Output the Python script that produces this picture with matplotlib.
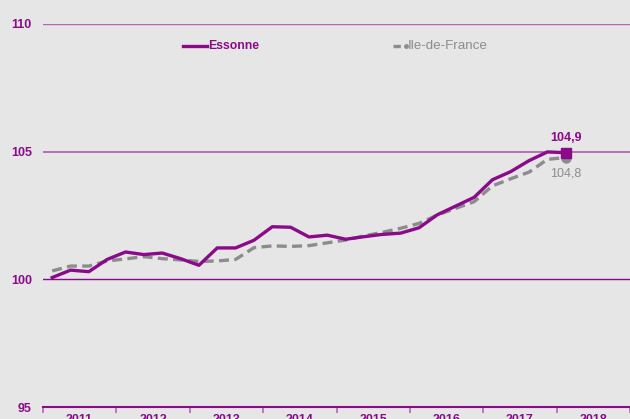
import matplotlib
matplotlib.use("Agg")
import matplotlib.pyplot as plt
from matplotlib.lines import Line2D

plt.rcParams["font.family"] = ["Liberation Sans", "DejaVu Sans"]

years = ["2011", "2012", "2013", "2014", "2015", "2016", "2017", "2018"]
essonne = [100.07, 100.36, 100.30, 100.78, 101.07, 100.97, 101.03, 100.81, 100.55,
           101.23, 101.23, 101.53, 102.06, 102.04, 101.66, 101.73, 101.57, 101.67,
           101.76, 101.81, 102.02, 102.53, 102.87, 103.21, 103.90, 104.22, 104.65,
           104.99, 104.96]
idf = [100.33, 100.52, 100.52, 100.72, 100.80, 100.89, 100.81, 100.76, 100.70,
       100.72, 100.78, 101.24, 101.31, 101.29, 101.32, 101.43, 101.54, 101.70,
       101.84, 102.00, 102.19, 102.52, 102.78, 103.04, 103.66, 103.94, 104.20,
       104.70, 104.77]
last_labels = ["104,9", "104,8"]
series_names = ["Essonne", "Ile-de-France"]

PURPLE = "#8a0a8a"
GRID = "#b466b4"
GRAY = "#8c8c8c"
BG = "#e6e6e6"

fig = plt.figure(figsize=(6.30, 4.19), dpi=100, facecolor=BG)
ax = fig.add_axes([43/630, 12/419, 1 - 43/630, (407-24)/419])
ax.set_facecolor(BG)

x = [i + 0.5 for i in range(len(essonne))]
ax.set_xlim(0, 32)
ax.set_ylim(95, 110)

for v, c, lw in [(110, GRID, 1.0), (105, GRID, 1.3), (100, PURPLE, 1.0)]:
    ax.axhline(v, color=c, lw=lw, zorder=1)

ax.plot(x, idf, color=GRAY, lw=2.4, ls=(0, (3.0, 1.6)), zorder=3)
ax.plot(x, essonne, color=PURPLE, lw=2.4, zorder=4)
ax.plot(x[-1], idf[-1], "o", color=GRAY, ms=6.5, zorder=5)
ax.plot(x[-1], essonne[-1], "s", color=PURPLE, ms=6.5, zorder=6)
ax.annotate(last_labels[0], (x[-1], essonne[-1]), xytext=(0, 6), textcoords="offset points",
            ha="center", va="bottom", color=PURPLE, fontsize=9, fontweight="bold")
ax.annotate(last_labels[1], (x[-1], idf[-1]), xytext=(0, -7), textcoords="offset points",
            ha="center", va="top", color=GRAY, fontsize=9)

for s in ["top", "right", "left"]:
    ax.spines[s].set_visible(False)
ax.spines["bottom"].set_color(PURPLE)
ax.spines["bottom"].set_linewidth(1.5)

ax.set_yticks([95, 100, 105, 110])
ax.set_yticklabels(["95", "100", "105", "110"])
ax.tick_params(axis="y", length=0, pad=8, labelcolor=PURPLE, labelsize=9)
for t in ax.get_yticklabels():
    t.set_fontweight("bold")

ax.set_xticks(range(0, 33, 4))
ax.set_xticklabels([])
ax.set_xticks([2 + 4*k for k in range(len(years))], minor=True)
ax.set_xticklabels(years, minor=True)
ax.tick_params(axis="x", which="major", length=4, color=GRID, width=1.2, direction="out")
ax.tick_params(axis="x", which="minor", length=0, pad=5, labelcolor=PURPLE, labelsize=9)
for t in ax.get_xticklabels(minor=True):
    t.set_fontweight("bold")

# legend
ly = 1 - 46/419
fig.add_artist(Line2D([183/630, 207/630], [ly, ly], color=PURPLE, lw=2.4))
fig.text(208/630, ly, series_names[0], color=PURPLE, fontsize=8.8, fontweight="bold", va="center")
fig.add_artist(Line2D([393/630, 404/630], [ly, ly], color=GRAY, lw=2.4, ls=(0, (2.2, 1.4))))
fig.add_artist(Line2D([406/630], [ly], color=GRAY, marker="o", ms=2.5, lw=0))
fig.text(408/630, ly, series_names[1], color=GRAY, fontsize=9.6, va="center")

fig.savefig("out.png", dpi=100, facecolor=BG)
